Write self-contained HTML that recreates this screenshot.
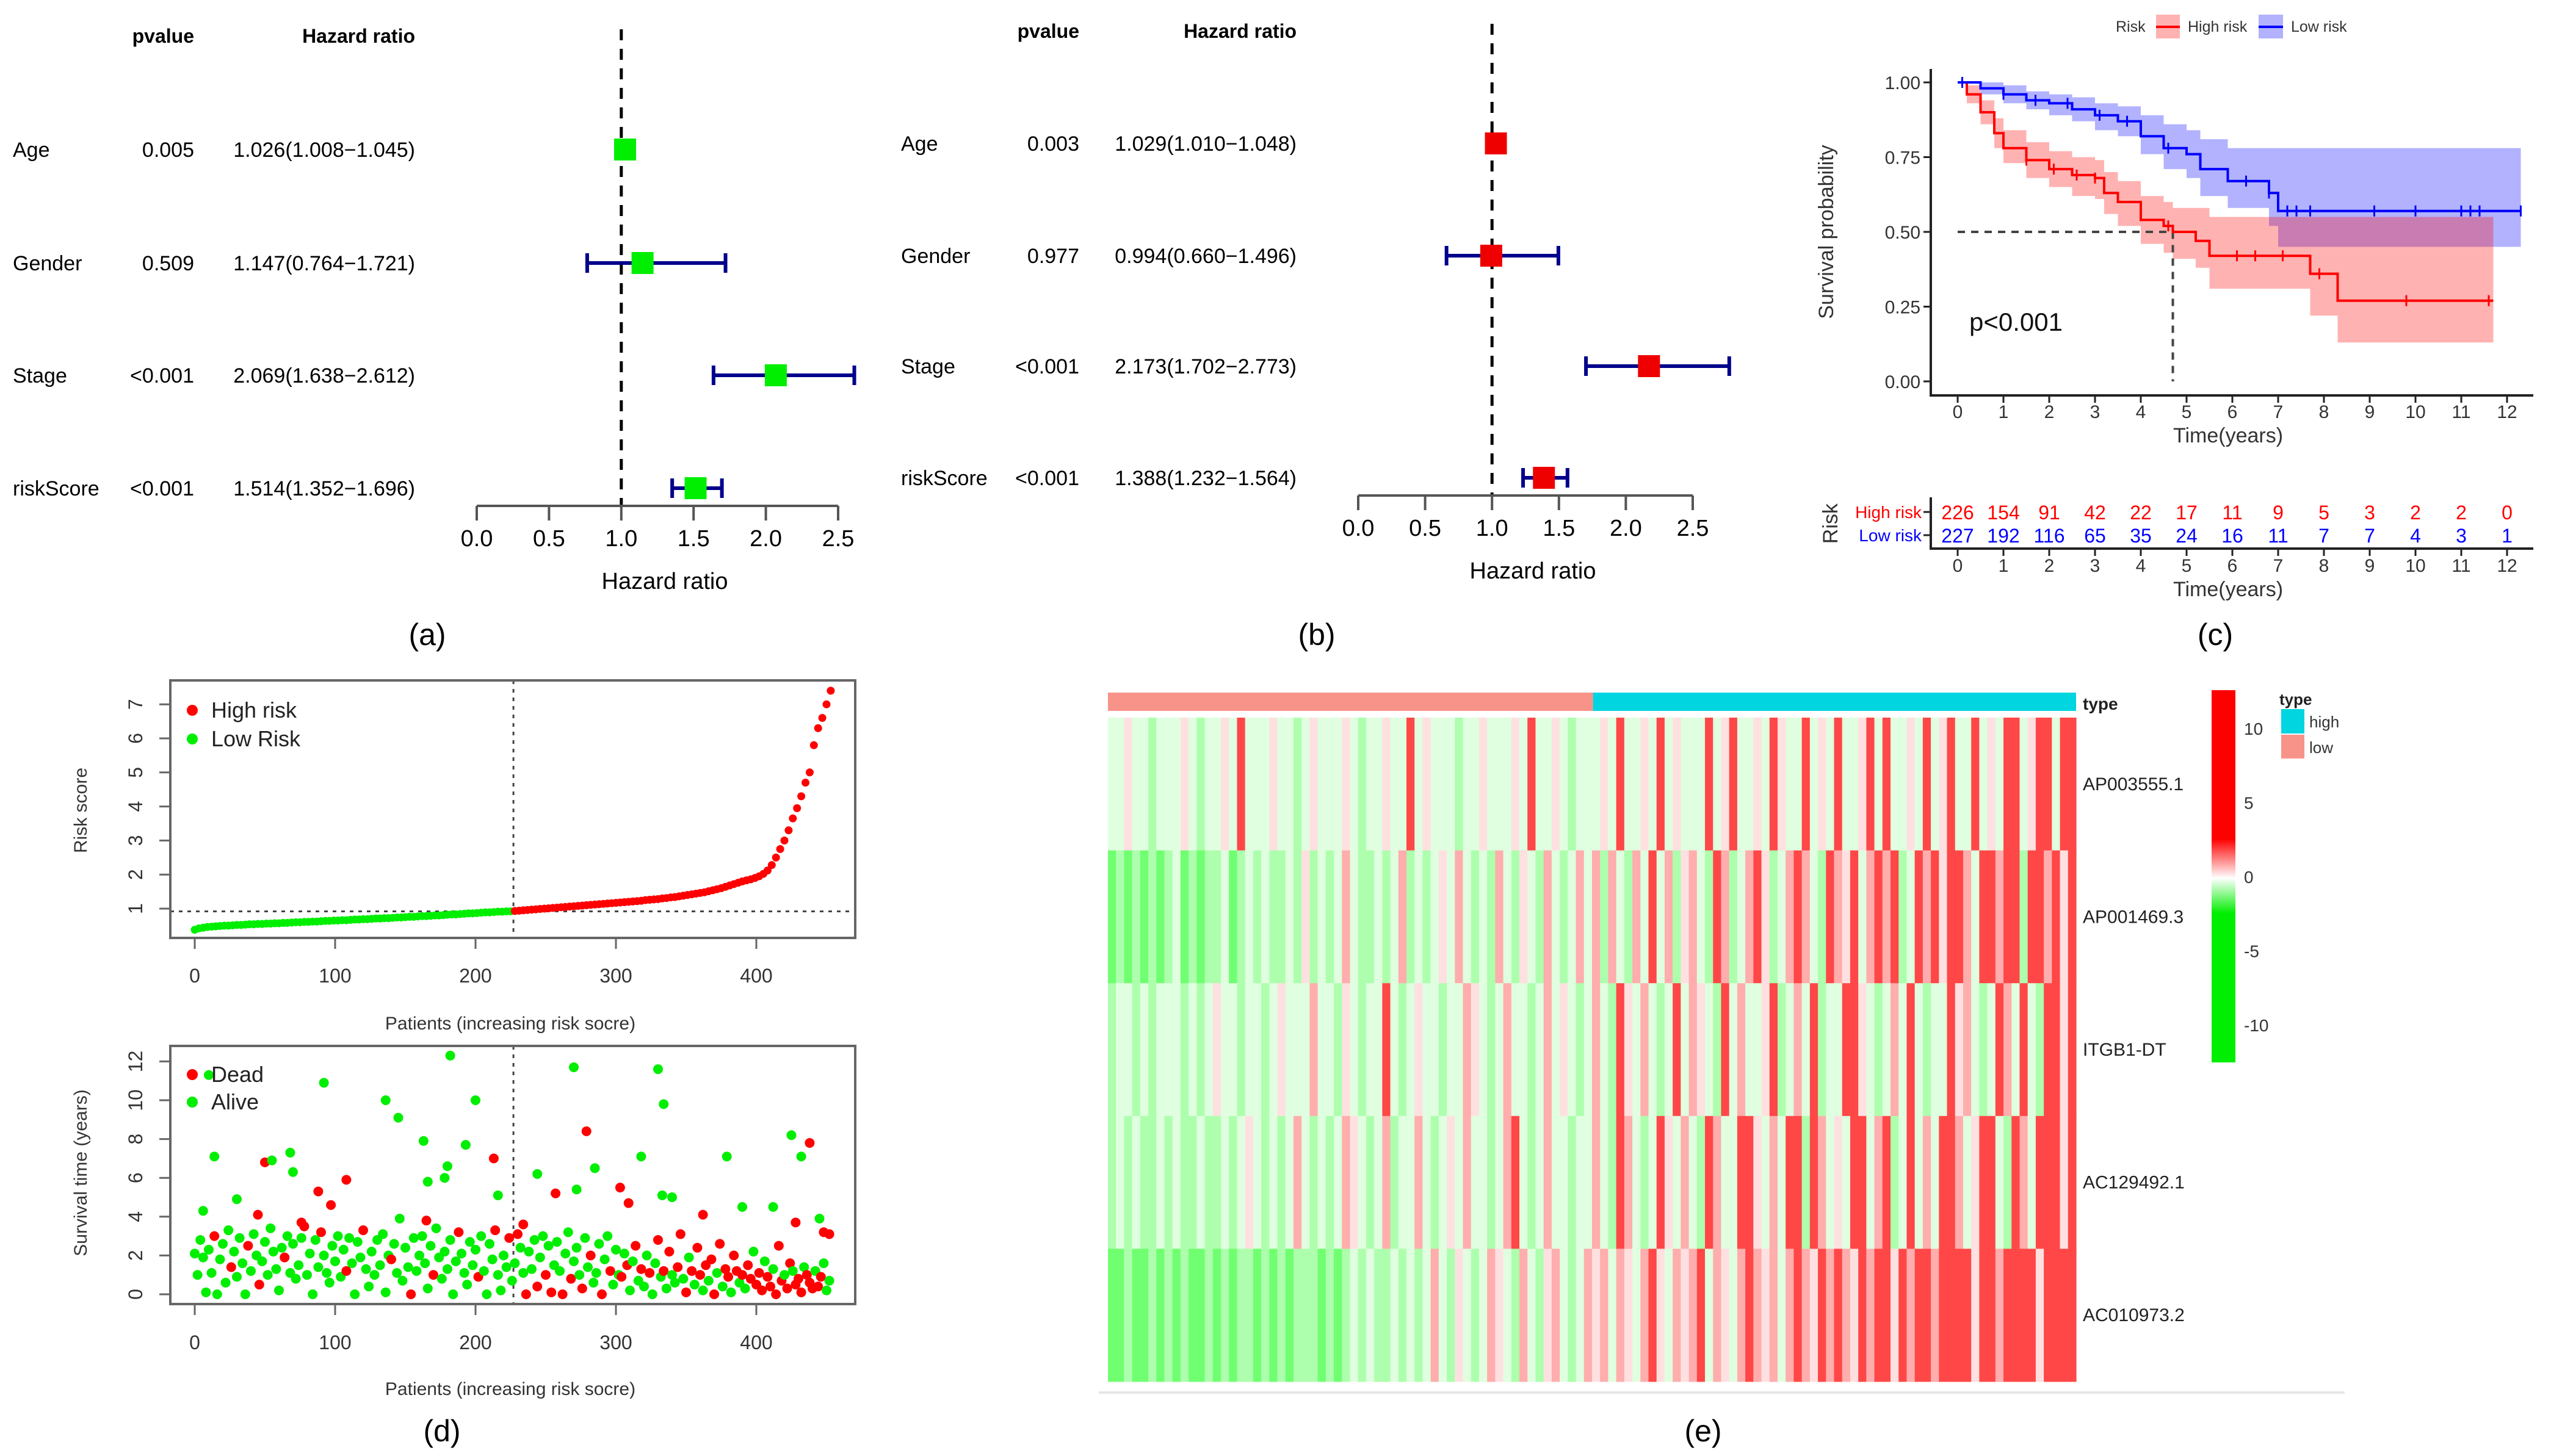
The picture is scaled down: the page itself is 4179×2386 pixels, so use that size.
<!DOCTYPE html>
<html><head><meta charset="utf-8"><title>Figure</title>
<style>
html,body{margin:0;padding:0;background:#fff;}
svg{display:block;font-family:"Liberation Sans",Arial,sans-serif;}
</style></head>
<body>
<svg id="fig" xmlns="http://www.w3.org/2000/svg" width="4179" height="2386" viewBox="0 0 4179 2386">
<rect x="0" y="0" width="4179" height="2386" fill="#fff"/>
<g id="pa"></g>
<g id="pb"></g>
<g id="pc"></g>
<g id="pd"></g>
<g id="pe"></g>
<text x="700" y="1057" font-size="50" text-anchor="middle">(a)</text>
<text x="2157" y="1057" font-size="50" text-anchor="middle">(b)</text>
<text x="3629" y="1057" font-size="50" text-anchor="middle">(c)</text>
<text x="724" y="2362" font-size="50" text-anchor="middle">(d)</text>
<text x="2790" y="2362" font-size="50" text-anchor="middle">(e)</text>
</svg>
<script>
// ---------- Forest data ----------
const forestVars = ["Age","Gender","Stage","riskScore"];
const aPvals = ["0.005","0.509","<0.001","<0.001"];
const aHR = [1.026,1.147,2.069,1.514];
const aLo = [1.008,0.764,1.638,1.352];
const aHi = [1.045,1.721,2.612,1.696];
const bPvals = ["0.003","0.977","<0.001","<0.001"];
const bHR = [1.029,0.994,2.173,1.388];
const bLo = [1.010,0.660,1.702,1.232];
const bHi = [1.048,1.496,2.773,1.564];
const forestTicks = [0,0.5,1,1.5,2,2.5];

// ---------- KM data ----------
const hiTimes = [0,0.2,0.5,0.8,1,1.5,2,2.5,3,3.2,3.5,4,4.5,4.7,5.2,5.5,7.7,8.3,11.7];
const hiSurv  = [1,0.96,0.9,0.83,0.78,0.74,0.71,0.69,0.68,0.63,0.6,0.54,0.52,0.5,0.47,0.42,0.36,0.27,0.27];
const hiUpper = [1,0.99,0.94,0.88,0.84,0.80,0.77,0.75,0.74,0.70,0.67,0.62,0.60,0.58,0.58,0.55,0.55,0.55,0.55];
const hiLower = [1,0.93,0.86,0.78,0.73,0.68,0.65,0.62,0.61,0.56,0.52,0.46,0.43,0.41,0.38,0.31,0.22,0.13,0.13];
const loTimes = [0,0.5,1,1.5,2,2.5,3,3.5,4,4.5,5,5.3,5.9,6.8,7,12.3];
const loSurv  = [1,0.98,0.96,0.94,0.93,0.91,0.89,0.87,0.82,0.78,0.76,0.71,0.67,0.63,0.57,0.57];
const loUpper = [1,1,0.99,0.97,0.96,0.95,0.93,0.92,0.89,0.86,0.84,0.81,0.78,0.78,0.78,0.78];
const loLower = [1,0.96,0.93,0.91,0.89,0.87,0.84,0.82,0.76,0.71,0.68,0.62,0.58,0.52,0.45,0.42];
const hiCensor = [1.5,2.1,2.6,3.0,4.6,6.1,6.5,7.1,7.9,9.8,11.6];
const loCensor = [0.1,1.0,1.7,2.4,3.1,3.7,4.6,6.3,6.8,7.2,7.4,7.7,9.1,10,11,11.2,11.4,12.3];
const kmXTicks = [0,1,2,3,4,5,6,7,8,9,10,11,12];
const kmYTicks = [0,0.25,0.5,0.75,1];
const kmYLabels = ["0.00","0.25","0.50","0.75","1.00"];
const medianTime = 4.7;
const atRiskHigh = [226,154,91,42,22,17,11,9,5,3,2,2,0];
const atRiskLow  = [227,192,116,65,35,24,16,11,7,7,4,3,1];

// ---------- Risk score data (every 3rd patient) ----------
const riskScores = [0.38,0.42,0.44,0.46,0.47,0.48,0.49,0.50,0.50,0.51,
0.52,0.52,0.53,0.54,0.54,0.55,0.55,0.56,0.56,0.57,
0.57,0.58,0.58,0.59,0.60,0.60,0.61,0.61,0.62,0.62,
0.63,0.64,0.64,0.65,0.65,0.66,0.66,0.67,0.68,0.68,
0.69,0.69,0.70,0.71,0.71,0.72,0.72,0.73,0.74,0.74,
0.75,0.76,0.76,0.77,0.78,0.78,0.79,0.80,0.80,0.81,
0.82,0.83,0.83,0.84,0.85,0.86,0.86,0.87,0.88,0.89,
0.89,0.90,0.91,0.91,0.92,0.92,0.93,0.94,0.95,0.96,
0.97,0.98,0.99,1.00,1.01,1.02,1.03,1.04,1.05,1.06,
1.07,1.08,1.09,1.10,1.11,1.12,1.13,1.14,1.15,1.16,
1.17,1.18,1.19,1.20,1.21,1.22,1.23,1.25,1.26,1.27,
1.28,1.30,1.31,1.33,1.34,1.36,1.38,1.40,1.42,1.44,
1.46,1.48,1.51,1.54,1.57,1.60,1.64,1.68,1.72,1.76,
1.80,1.83,1.86,1.90,1.95,2.02,2.12,2.28,2.50,2.75,
3.00,3.30,3.65,3.95,4.30,4.70,5.00,5.80,6.30,6.60,7.00,7.40];
const riskCutoff = 227;
const riskThreshold = 0.92;
const riskXTicks = [0,100,200,300,400];
const riskYTicks = [1,2,3,4,5,6,7];

// ---------- Survival scatter data ----------
const bulkTimes = [2.1,1.0,2.8,1.9,0.1,2.3,1.1,3.0,0.0,1.8,2.6,0.6,3.3,1.4,2.2,0.9,2.9,1.6,0.0,2.5,
1.2,3.1,2.0,0.5,1.7,2.7,1.0,3.4,2.2,1.3,0.2,2.4,1.9,3.0,1.1,2.6,0.8,1.5,2.9,3.5,
1.0,2.1,0.0,2.8,1.4,3.2,2.0,1.1,0.6,2.5,1.7,3.0,0.9,2.3,1.2,2.9,1.6,0.0,2.7,1.9,
3.3,1.3,0.4,2.2,1.0,2.8,1.5,3.1,0.1,2.0,1.8,2.6,1.1,3.9,0.7,2.4,1.4,0.0,2.9,1.2,
2.0,3.0,1.6,0.3,2.5,1.0,3.4,1.9,0.8,2.2,1.3,2.8,0.0,1.7,3.2,2.1,1.1,0.5,2.7,1.5,
2.3,0.9,3.0,1.2,0.0,2.6,1.8,3.3,1.0,0.2,2.0,1.4,2.9,0.7,1.6,3.1,2.4,1.1,0.0,2.2,
1.3,2.8,0.4,1.9,3.0,1.0,2.5,0.1,1.5,2.7,1.2,0.0,2.1,3.2,0.8,1.7,2.4,1.0,0.3,2.9,
1.4,2.0,0.6,1.1,2.6,0.0,1.8,3.0,1.2,0.5,2.3,1.0,0.9,2.1,1.5,0.2,1.7,2.5,0.7,1.3,
0.4,2.0,1.1,0.0,1.6,2.8,0.9,1.2,0.3,2.2,1.0,0.6,1.4,3.1,0.8,0.1,1.9,1.2,0.5,2.4,
1.0,0.2,1.5,0.7,1.8,0.0,1.1,2.6,0.4,1.3,0.9,0.1,2.0,1.2,0.6,1.0,0.3,1.5,0.8,2.2,
0.5,1.1,0.2,1.7,0.9,0.4,1.3,0.0,2.5,0.7,1.0,0.3,1.6,1.2,0.5,0.8,0.1,1.4,1.0,0.6,
0.3,1.2,0.4,0.9,1.6,0.2,0.7];
const bulkDead = "00000001000001000001000100000000100000010000010000000010000010000000001000000100000001000000001000000100000100001001001000100101000100100010010001001000101001010010010101001101010110101101011011010110111011011101101110111011";
const extraPatients = [6,14,10,30,50,55,68,70,92,88,97,108,136,145,163,166,178,180,182,193,200,213,216,234,244,257,270,272,279,285,303,309,318,330,334,333,340,362,379,390,412,425,428,432,438,445,448,452,45,76,165];
const extraTimes = [4.3,7.1,11.3,4.9,6.8,6.9,7.3,6.3,10.9,5.3,4.6,5.9,10,9.1,7.9,5.8,6,6.6,12.3,7.7,10,7,5.1,3.6,6.2,5.2,11.7,5.4,8.4,6.5,5.5,4.7,7.1,11.6,9.8,5.1,5,4.1,7.1,4.5,4.5,8.2,3.7,7.1,7.8,3.9,3.2,3.1,4.1,3.7,3.8];
const extraDead = [0,0,0,0,1,0,0,0,0,1,1,1,0,0,0,0,0,0,0,0,0,1,0,1,0,1,0,0,1,0,1,1,0,0,0,0,0,1,0,0,0,0,1,0,1,0,1,1,1,1,1];
const survXTicks = [0,100,200,300,400];
const survYTicks = [0,2,4,6,8,10,12];

// ---------- Heatmap data (level codes per column group) ----------
const genes = ["AP003555.1","AP001469.3","ITGB1-DT","AC129492.1","AC010973.2"];
const heatRows = [
"..w..g...w.g..w.R...w..g.w...w.g..w..R.w...g..w...w.R..w.g..".concat(".w.R..w.R.w...R.wR..w.Rw..R.w.R..wR.R..w.R.wR..R.w.RR.wRR.RR"),
"GgGgGgGg.GgGgg.Gg.g.gg.gwg.g.r.gg.g.rg.g.w.r.g.gr.gw.gr.g.r.".concat("rgr.gr.R.rgwr.gRrg.rRwg.rRr.gRrwR.rRrRg.RrRwRRr.RRrRRgRRrRwR"),
"g..g.g...g.g.w..g..g.w...r..gw.g..R.g.w..g..rw.g.r..g.r.w.g.".concat("r.gRw.r.g.R.rw.gR.r..wRg.r.Rg..RRw.g.r.R.g..Rwr.g.Rr.R.gRRwR"),
"g.g.gg.g.gg.gg.g.w.g.g.r.g.g.rw.g.rg..r.g.w.r..g.rR.g.r..g..".concat("r.gRr.g.Rw.r.gRr..RRw.r.RRgRr.w.RR.rRg.R.r.RRr.wRR.gRr.RRRwR"),
"GGgGGgGgGgGGgGgGggGgGgGgggGgGg.g.gg.g.g.r.gw.g.rw.gr.gwr.g.r".concat("wr.rw.rRw.rwrR.rw.rRrwr.rRrwRrRrwRrRRwRrRRrRRRRwRRrRRRRwRRRR")
];
const levelValues = {"G":-1.4,"g":-0.8,".":-0.3,"w":0.3,"r":0.8,"R":1.8};
const colorbarLabels = [10,5,0,-5,-10];
const lowFraction = 0.501;

// ---------- helpers ----------
const NS = "http://www.w3.org/2000/svg";
function mk(tag, attrs, parent){
  const e = document.createElementNS(NS, tag);
  for (const k in attrs) e.setAttribute(k, attrs[k]);
  if (parent) parent.appendChild(e);
  return e;
}
function txt(parent, x, y, s, size, anchor, extra){
  const t = mk("text", Object.assign({x:x, y:y, "font-size":size, "text-anchor":anchor||"start"}, extra||{}), parent);
  t.textContent = s;
  return t;
}

// ---------- Forest plots ----------
function forest(g, cfg, pv, hr, lo, hi, color){
  const xs = v => cfg.x0 + (cfg.x1 - cfg.x0) * v / 2.5;
  let t;
  t = txt(g, cfg.pvRight, cfg.headY, "pvalue", 32, "end", {"font-weight":"bold"});
  
  
  t = txt(g, cfg.hrRight, cfg.headY, "Hazard ratio", 32, "end", {"font-weight":"bold"});
  
  
  const ref = mk("line", {x1:xs(1), x2:xs(1), y1:cfg.dashTop, y2:cfg.axisY, stroke:"#000", "stroke-width":5, "stroke-dasharray":"18,14"}, g);
  
  
  for (let i = 0; i < forestVars.length; i++){
    const y = cfg.rows[i];
    t = txt(g, cfg.labelX, y + 12, forestVars[i], 34, "start");
    
    
    t = txt(g, cfg.pvRight, y + 12, pv[i], 34, "end");
    
    
    t = txt(g, cfg.hrRight, y + 12, hr[i].toFixed(3) + "(" + lo[i].toFixed(3) + "\u2212" + hi[i].toFixed(3) + ")", 34, "end");
    
    
    const ci = mk("path", {d:"M"+xs(lo[i])+","+y+"H"+xs(hi[i])+"M"+xs(lo[i])+","+(y-16)+"V"+(y+16)+"M"+xs(hi[i])+","+(y-16)+"V"+(y+16), stroke:"#00008b", "stroke-width":6, fill:"none"}, g);
    
    
    const sq = mk("rect", {x:xs(hr[i]) - 18, y:y - 18, width:36, height:36, fill:color}, g);
    
    
  }
  const ax = mk("line", {x1:cfg.x0, x2:cfg.x1, y1:cfg.axisY, y2:cfg.axisY, stroke:"#555", "stroke-width":4}, g);
  
  
  forestTicks.forEach(v => {
    const tk = mk("line", {x1:xs(v), x2:xs(v), y1:cfg.axisY, y2:cfg.axisY + 24, stroke:"#555", "stroke-width":4}, g);
    
    
    const tl = txt(g, xs(v), cfg.axisY + 66, v.toFixed(1), 38, "middle");
    
    
  });
  t = txt(g, (cfg.x0 + cfg.x1) / 2 + 12, cfg.axisY + 136, "Hazard ratio", 38, "middle");
  
  
}
forest(document.getElementById("pa"), {x0:781, x1:1373, axisY:829, headY:70, dashTop:48, rows:[245,431,615,800], labelX:21, pvRight:318, hrRight:680}, aPvals, aHR, aLo, aHi, "#00ee00");
forest(document.getElementById("pb"), {x0:2225, x1:2773, axisY:812, headY:62, dashTop:39, rows:[235,419,600,783], labelX:1476, pvRight:1768, hrRight:2124}, bPvals, bHR, bLo, bHi, "#ee0000");

// ---------- KM plot ----------
(function(){
  const g = document.getElementById("pc");
  const X0 = 3207, XS = 75, Y0 = 625, YS = 490;
  const xs = t => X0 + t * XS;
  const ys = s => Y0 - s * YS;
  function stepPath(times, vals){
    let d = "M" + xs(times[0]) + "," + ys(vals[0]);
    for (let i = 1; i < times.length; i++) d += "H" + xs(times[i]) + "V" + ys(vals[i]);
    return d;
  }
  function band(times, up, lo){
    let d = "M" + xs(times[0]) + "," + ys(up[0]);
    for (let i = 1; i < times.length; i++) d += "H" + xs(times[i]) + "V" + ys(up[i]);
    d += "V" + ys(lo[lo.length - 1]);
    for (let i = times.length - 1; i > 0; i--) d += "H" + xs(times[i]) + "V" + ys(lo[i - 1]);
    d += "H" + xs(times[0]) + "Z";
    return d;
  }
  let e;
  e = mk("path", {d:band(loTimes, loUpper, loLower), fill:"#0000ff", "fill-opacity":0.3}, g);
  
  
  e = mk("path", {d:band(hiTimes, hiUpper, hiLower), fill:"#ff0000", "fill-opacity":0.3}, g);
  
  
  e = mk("path", {d:"M"+xs(0)+","+ys(0.5)+"H"+xs(medianTime)+"V"+ys(0), stroke:"#444", "stroke-width":4, "stroke-dasharray":"12,10", fill:"none"}, g);
  
  
  e = mk("path", {d:stepPath(hiTimes, hiSurv), stroke:"#ff0000", "stroke-width":4, fill:"none"}, g);
  
  
  e = mk("path", {d:stepPath(loTimes, loSurv), stroke:"#0000ff", "stroke-width":4, fill:"none"}, g);
  
  
  function survAt(times, vals, t){ let s = vals[0]; for (let i = 0; i < times.length; i++) if (times[i] <= t) s = vals[i]; return s; }
  hiCensor.forEach(t => {
    const c = mk("path", {d:"M"+xs(t)+","+(ys(survAt(hiTimes,hiSurv,t))-9)+"v18", stroke:"#ff0000", "stroke-width":3}, g);
    
    
  });
  loCensor.forEach(t => {
    const c = mk("path", {d:"M"+xs(t)+","+(ys(survAt(loTimes,loSurv,t))-9)+"v18", stroke:"#0000ff", "stroke-width":3}, g);
    
    
  });
  e = mk("path", {d:"M3163,113V648H4150", stroke:"#222", "stroke-width":4, fill:"none"}, g);
  
  
  kmYTicks.forEach((v, i) => {
    const tk = mk("line", {x1:3151, x2:3163, y1:ys(v), y2:ys(v), stroke:"#222", "stroke-width":3}, g);
    
    
    const tl = txt(g, 3146, ys(v) + 11, kmYLabels[i], 30, "end", {fill:"#333"});
    
    
  });
  kmXTicks.forEach(v => {
    const tk = mk("line", {x1:xs(v), x2:xs(v), y1:648, y2:660, stroke:"#222", "stroke-width":3}, g);
    
    
    const tl = txt(g, xs(v), 685, String(v), 30, "middle", {fill:"#333"});
    
    
    const t2 = mk("line", {x1:xs(v), x2:xs(v), y1:899, y2:911, stroke:"#222", "stroke-width":3}, g);
    
    
    const l2 = txt(g, xs(v), 937, String(v), 30, "middle", {fill:"#333"});
    
    
  });
  atRiskHigh.forEach((n, i) => {
    const t = txt(g, xs(kmXTicks[i]), 851, String(n), 32, "middle", {fill:"#ff0000"});
    
    
  });
  atRiskLow.forEach((n, i) => {
    const t = txt(g, xs(kmXTicks[i]), 889, String(n), 32, "middle", {fill:"#0000ff"});
    
    
  });
  e = mk("path", {d:"M3163,815V899H4150", stroke:"#222", "stroke-width":4, fill:"none"}, g);
  
  
  e = mk("path", {d:"M3151,839H3163M3151,877H3163", stroke:"#222", "stroke-width":3}, g);
  
  
})();
</script>
<script>
// ---------- Panel d ----------
(function(){
  const g = document.getElementById("pd");
  const PX0 = 319, PXS = 2.3;
  const xs = p => PX0 + p * PXS;
  const rY = v => 1489 - (v - 1) * 55.8;
  let e;
  e = mk("line", {x1:xs(riskCutoff), x2:xs(riskCutoff), y1:1115, y2:1537, stroke:"#444", "stroke-width":3, "stroke-dasharray":"6,8"}, g);
  
  
  e = mk("line", {x1:279, x2:1401, y1:rY(riskThreshold), y2:rY(riskThreshold), stroke:"#444", "stroke-width":3, "stroke-dasharray":"6,8"}, g);
  
  
  riskScores.forEach((v, k) => {
    const p = k * 3;
    const c = mk("circle", {cx:xs(p), cy:rY(v), r:6.5, fill: p >= riskCutoff ? "#ff0000" : "#00ee00"}, g);
    
    
  });
  function box(y0, y1, name){
    const b = mk("rect", {x:279, y:y0, width:1122, height:y1 - y0, fill:"none", stroke:"#666", "stroke-width":4}, g);
    
    
  }
  box(1115, 1537, 'risk-plot-frame');
  riskXTicks.forEach(v => {
    const tk = mk("line", {x1:xs(v), x2:xs(v), y1:1537, y2:1555, stroke:"#666", "stroke-width":3}, g);
    
    
    const tl = txt(g, xs(v), 1610, String(v), 32, "middle", {fill:"#333"});
    
    
  });
  riskYTicks.forEach(v => {
    const tk = mk("line", {x1:261, x2:279, y1:rY(v), y2:rY(v), stroke:"#666", "stroke-width":3}, g);
    
    
    const tl = txt(g, 0, 0, String(v), 32, "middle", {fill:"#333", transform:"translate(233," + rY(v) + ") rotate(-90)"});
    
    
  });
  const sY = v => 2121 - v * 31.8;
  e = mk("line", {x1:xs(riskCutoff), x2:xs(riskCutoff), y1:1714, y2:2137, stroke:"#444", "stroke-width":3, "stroke-dasharray":"6,8"}, g);
  
  
  bulkTimes.forEach((t, k) => {
    const dead = bulkDead.charAt(k) === "1";
    const c = mk("circle", {cx:xs(k * 2), cy:sY(t), r:8, fill: dead ? "#ff0000" : "#00ee00"}, g);
    
    
  });
  extraPatients.forEach((p, k) => {
    const dead = extraDead[k] === 1;
    const c = mk("circle", {cx:xs(p), cy:sY(extraTimes[k]), r:8, fill: dead ? "#ff0000" : "#00ee00"}, g);
    
    
  });
  box(1714, 2137, 'survival-plot-frame');
  survXTicks.forEach(v => {
    const tk = mk("line", {x1:xs(v), x2:xs(v), y1:2137, y2:2155, stroke:"#666", "stroke-width":3}, g);
    
    
    const tl = txt(g, xs(v), 2211, String(v), 32, "middle", {fill:"#333"});
    
    
  });
  survYTicks.forEach(v => {
    const tk = mk("line", {x1:261, x2:279, y1:sY(v), y2:sY(v), stroke:"#666", "stroke-width":3}, g);
    
    
    const tl = txt(g, 0, 0, String(v), 32, "middle", {fill:"#333", transform:"translate(233," + sY(v) + ") rotate(-90)"});
    
    
  });
})();

// ---------- Panel e heatmap ----------
(function(){
  const g = document.getElementById("pe");
  const HX0 = 1815, HX1 = 3401, HY0 = 1176, HY1 = 2264;
  const rowH = (HY1 - HY0) / heatRows.length;
  function col(v){
    let t = Math.max(-1, Math.min(1, v / 2.5));
    if (t >= 0){ const c = Math.round(255 * (1 - t)); return "rgb(255," + c + "," + c + ")"; }
    const c = Math.round(255 * (1 + t)); return "rgb(" + c + ",255," + c + ")";
  }
  const split = HX0 + (HX1 - HX0) * lowFraction;
  let e;
  e = mk("rect", {x:HX0, y:1135, width:split - HX0, height:30, fill:"#f8938a"}, g);
  
  
  e = mk("rect", {x:split, y:1135, width:HX1 - split, height:30, fill:"#00d5e0"}, g);
  
  
  heatRows.forEach((row, r) => {
    const n = row.length;
    const w = (HX1 - HX0) / n;
    for (let i = 0; i < n; i++){
      const v = levelValues[row.charAt(i)];
      const c = mk("rect", {x:HX0 + i * w, y:HY0 + r * rowH, width:w + 0.6, height:rowH + 0.5, fill:col(v)}, g);
      
      
    }
  });
  const defs = mk("defs", {}, g);
  const grad = mk("linearGradient", {id:"cb", x1:0, y1:0, x2:0, y2:1}, defs);
  [[0,"#ff0000"],[0.4,"#ff0000"],[0.505,"#ffffff"],[0.6,"#00ee00"],[1,"#00ee00"]].forEach(s => mk("stop", {offset:s[0], "stop-color":s[1]}, grad));
  e = mk("rect", {x:3623, y:1131, width:39, height:610, fill:"url(#cb)"}, g);
  
  
  colorbarLabels.forEach(v => {
    const t = txt(g, 3676, 1437 - v * 24.3 + 10, String(v), 28, "start", {fill:"#333"});
    
    
  });
  genes.forEach((gname, r) => {
    const t = txt(g, 3412, HY0 + (r + 0.5) * rowH + 10, gname, 30, "start", {fill:"#222"});
    
    
  });
})();
</script>
<script>
(function(){
  const s = document.getElementById("fig");
  const add = (html) => s.insertAdjacentHTML("beforeend", html);
  add('<text x="3003" y="380" font-size="34" text-anchor="middle" fill="#333" transform="rotate(-90 3003 380)">Survival probability</text>');
  add('<text x="3226" y="542" font-size="42" fill="#111">p&lt;0.001</text>');
  add('<text x="3650" y="725" font-size="34" text-anchor="middle" fill="#333">Time(years)</text>');
  add('<text x="3650" y="977" font-size="34" text-anchor="middle" fill="#333">Time(years)</text>');
  add('<text x="3148" y="849" font-size="28" text-anchor="end" fill="#ff0000">High risk</text>');
  add('<text x="3148" y="887" font-size="28" text-anchor="end" fill="#0000ff">Low risk</text>');
  add('<text x="3010" y="858" font-size="34" text-anchor="middle" fill="#333" transform="rotate(-90 3010 858)">Risk</text>');
  add('<text x="3466" y="52" font-size="25" fill="#333">Risk</text>');
  add('<rect x="3532" y="24" width="39" height="39" fill="#ff0000" fill-opacity="0.3"/><line x1="3532" x2="3571" y1="44" y2="44" stroke="#ff0000" stroke-width="4"/>');
  add('<text x="3584" y="52" font-size="25" fill="#333">High risk</text>');
  add('<rect x="3700" y="24" width="40" height="39" fill="#0000ff" fill-opacity="0.3"/><line x1="3700" x2="3740" y1="44" y2="44" stroke="#0000ff" stroke-width="4"/>');
  add('<text x="3753" y="52" font-size="25" fill="#333">Low risk</text>');
  add('<circle cx="315" cy="1164" r="9" fill="#ff0000"/><text x="346" y="1176" font-size="36" fill="#222">High risk</text>');
  add('<circle cx="315" cy="1211" r="9" fill="#00ee00"/><text x="346" y="1223" font-size="36" fill="#222">Low Risk</text>');
  add('<text x="142" y="1328" font-size="30" text-anchor="middle" fill="#333" transform="rotate(-90 142 1328)">Risk score</text>');
  add('<text x="836" y="1687" font-size="30" text-anchor="middle" fill="#333">Patients (increasing risk socre)</text>');
  add('<circle cx="315" cy="1761" r="9" fill="#ff0000"/><text x="346" y="1773" font-size="36" fill="#222">Dead</text>');
  add('<circle cx="315" cy="1806" r="9" fill="#00ee00"/><text x="346" y="1818" font-size="36" fill="#222">Alive</text>');
  add('<text x="142" y="1922" font-size="30" text-anchor="middle" fill="#333" transform="rotate(-90 142 1922)">Survival time (years)</text>');
  add('<text x="836" y="2286" font-size="30" text-anchor="middle" fill="#333">Patients (increasing risk socre)</text>');
  add('<text x="3412" y="1163" font-size="28" font-weight="bold" fill="#222">type</text>');
  add('<text x="3734" y="1155" font-size="26" font-weight="bold" fill="#222">type</text>');
  add('<rect x="3737" y="1162" width="38" height="40" fill="#00d5e0"/><text x="3783" y="1192" font-size="26" fill="#333">high</text>');
  add('<rect x="3737" y="1204" width="38" height="39" fill="#f8938a"/><text x="3783" y="1234" font-size="26" fill="#333">low</text>');
  add('<line x1="1800" x2="3841" y1="2282" y2="2282" stroke="#e6e6e6" stroke-width="4"/>');
})();
</script>
</body></html>
